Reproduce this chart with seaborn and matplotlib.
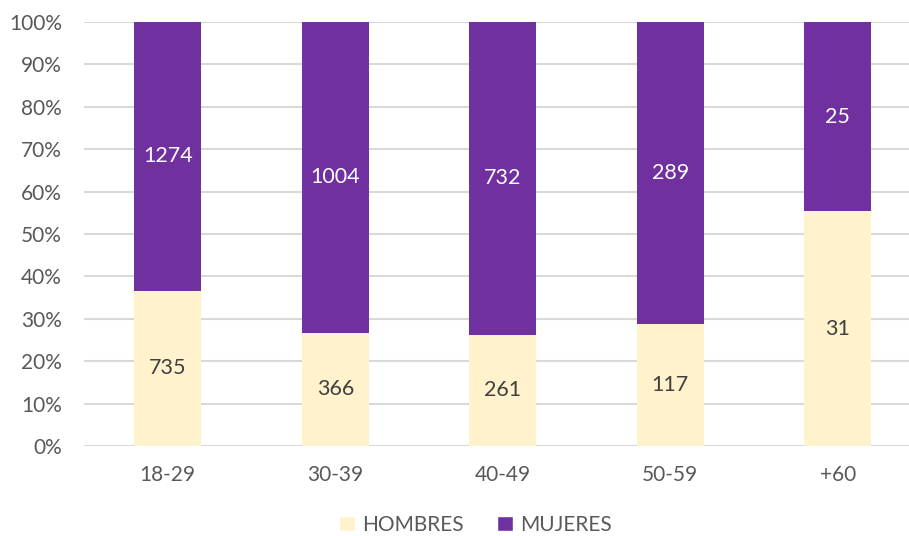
import matplotlib
matplotlib.use("Agg")
import matplotlib.pyplot as plt
import seaborn as sns
import pandas as pd
from matplotlib.patches import Patch
from matplotlib.ticker import PercentFormatter

# Age groups and counts by sex
grupos = ["18-29", "30-39", "40-49", "50-59", "+60"]
hombres = [735, 366, 261, 117, 31]
mujeres = [1274, 1004, 732, 289, 25]

col_hombres = "#FFF2CC"
col_mujeres = "#7030A0"

df = pd.DataFrame({"grupo": grupos, "hombres": hombres, "mujeres": mujeres})
df["total"] = df["hombres"] + df["mujeres"]
df["pct_h"] = df["hombres"] / df["total"] * 100
df["pct_tot"] = 100.0

sns.set_theme(style="white")
plt.rcParams["font.family"] = ["Lato", "DejaVu Sans"]

fig = plt.figure(figsize=(9.09, 5.36), dpi=100)
ax = fig.add_axes([84 / 909, 90 / 536, 837.5 / 909, 424 / 536])

# Full-height bar for MUJERES, then HOMBRES share drawn over it
sns.barplot(data=df, x="grupo", y="pct_tot", color=col_mujeres, width=0.4,
            saturation=1, linewidth=0, ax=ax, zorder=3)
sns.barplot(data=df, x="grupo", y="pct_h", color=col_hombres, width=0.4,
            saturation=1, linewidth=0, ax=ax, zorder=3)

# Value labels centred in each segment
for i, row in df.iterrows():
    ax.text(i, row["pct_h"] / 2, f"{row['hombres']}", ha="center", va="center",
            fontsize=15.5, color="#404040", zorder=5)
    ax.text(i, (row["pct_h"] + 100) / 2, f"{row['mujeres']}", ha="center",
            va="center", fontsize=15.5, color="white", zorder=5)

ax.set_xlim(-0.5, 4.5)
ax.set_ylim(0, 100)
ax.set_yticks(range(0, 101, 10))
ax.yaxis.set_major_formatter(PercentFormatter(decimals=0))
ax.grid(axis="y", color="#D9D9D9", linewidth=1.5, zorder=0)
ax.set_axisbelow(True)
for s in ax.spines.values():
    s.set_visible(False)
ax.set_xlabel("")
ax.set_ylabel("")
ax.tick_params(axis="y", length=0, pad=16, labelsize=15, labelcolor="#595959")
ax.tick_params(axis="x", length=0, pad=14, labelsize=15, labelcolor="#595959")

handles = [Patch(facecolor=col_hombres, label="HOMBRES"),
           Patch(facecolor=col_mujeres, label="MUJERES")]
fig.legend(handles=handles, loc="center", bbox_to_anchor=(0.523, 1 - 525 / 536),
           ncol=2, frameon=False, fontsize=15, labelcolor="#595959",
           handlelength=0.75, handleheight=0.75, handletextpad=0.35,
           columnspacing=1.6)

fig.savefig("out.png", dpi=100)
